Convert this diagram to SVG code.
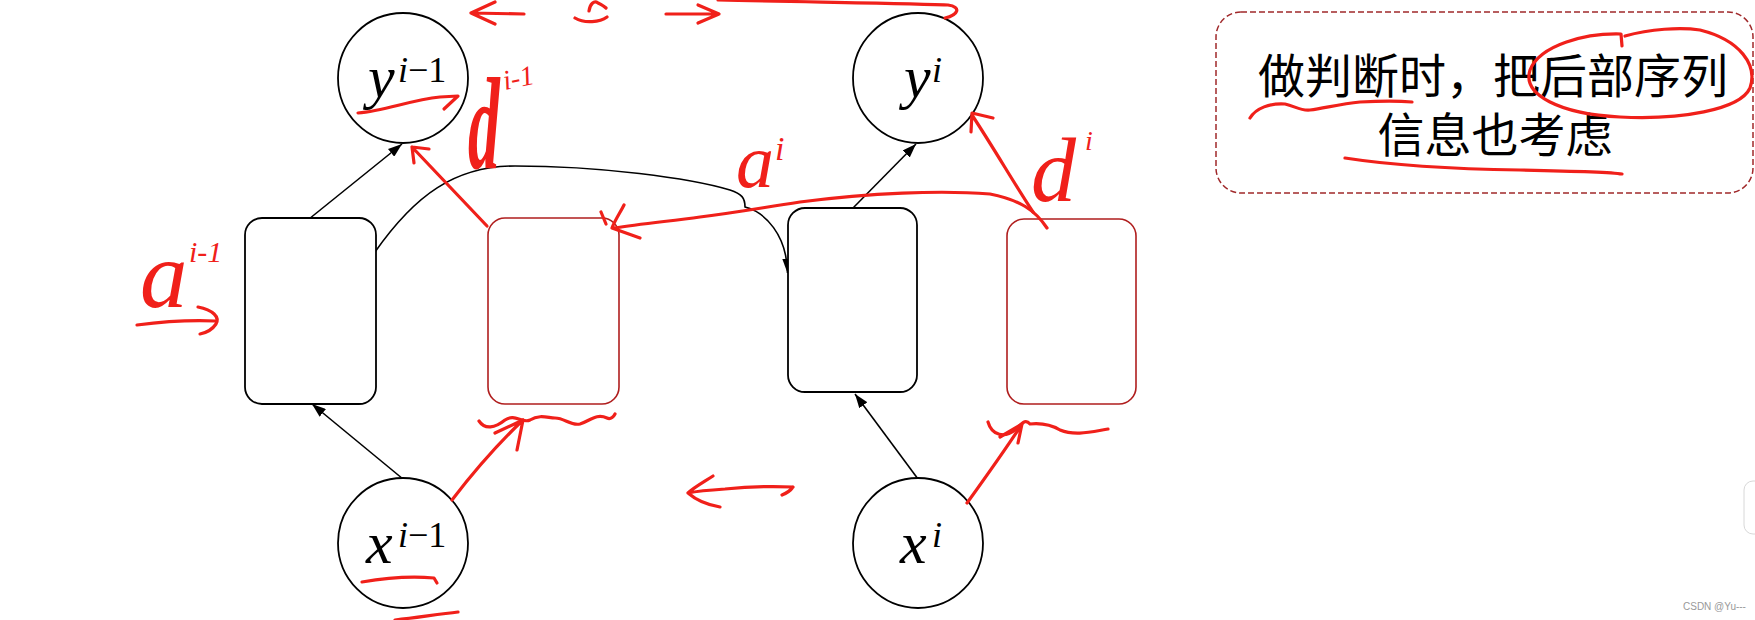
<svg xmlns="http://www.w3.org/2000/svg" width="1755" height="620" viewBox="0 0 1755 620">
<style>
.node{fill:#fff;stroke:#000;stroke-width:1.8}
.rnode{fill:#fff;stroke:#b01e1e;stroke-width:1.6}
.edge{fill:none;stroke:#000;stroke-width:1.6}
.math{font-family:"Liberation Serif","DejaVu Serif",serif;fill:#000}
.it{font-style:italic}
.cn{font-family:"Noto Sans CJK SC","Noto Sans",sans-serif;font-size:47px;fill:#000;text-anchor:middle}
.pen{fill:none;stroke:#f0201a;stroke-width:3.2;stroke-linecap:round;stroke-linejoin:round}
.hand{font-family:"Liberation Serif","DejaVu Serif",serif;font-style:italic;fill:#f0201a}
</style>
<defs>
<marker id="ah" viewBox="0 0 14 10" refX="14" refY="5" markerWidth="14" markerHeight="10" orient="auto" markerUnits="userSpaceOnUse">
<path d="M0,0 L14,5 L0,10 z" fill="#000"/>
</marker>
</defs>
<rect width="1755" height="620" fill="#fff"/>

<g id="connectors">
<line class="edge" x1="309" y1="219" x2="402" y2="144" marker-end="url(#ah)"/>
<line class="edge" x1="403" y1="479" x2="312" y2="404" marker-end="url(#ah)"/>
<line class="edge" x1="853" y1="208" x2="916" y2="144" marker-end="url(#ah)"/>
<line class="edge" x1="918" y1="479" x2="855" y2="394" marker-end="url(#ah)"/>
<path class="edge" d="M375,252 C415,195 455,166 515,166 C600,166 690,178 730,190 C742,194 745,198 745,207 C765,212 787,235 787.5,273" marker-end="url(#ah)"/>
</g>

<g id="node-y-prev">
<circle class="node" cx="403" cy="78" r="65"/>
<text class="math" font-size="60"><tspan class="it" x="368" y="97">y</tspan><tspan font-size="36" x="398" y="82"><tspan class="it">i</tspan>−1</tspan></text>
</g>
<g id="node-y-cur">
<circle class="node" cx="918" cy="78" r="65"/>
<text class="math" font-size="60"><tspan class="it" x="904" y="97">y</tspan><tspan class="it" font-size="36" x="932" y="82">i</tspan></text>
</g>
<g id="node-x-prev">
<circle class="node" cx="403" cy="543" r="65"/>
<text class="math" font-size="60"><tspan class="it" x="366" y="563">x</tspan><tspan font-size="36" x="398" y="547"><tspan class="it">i</tspan>−1</tspan></text>
</g>
<g id="node-x-cur">
<circle class="node" cx="918" cy="543" r="65"/>
<text class="math" font-size="60"><tspan class="it" x="900" y="563">x</tspan><tspan class="it" font-size="36" x="932" y="547">i</tspan></text>
</g>
<g id="node-h-prev"><rect class="node" x="245" y="218" width="131" height="186" rx="17"/></g>
<g id="node-r-prev"><rect class="rnode" x="488" y="218" width="131" height="186" rx="17"/></g>
<g id="node-h-cur"><rect class="node" x="788" y="208" width="129" height="184" rx="17"/></g>
<g id="node-r-cur"><rect class="rnode" x="1007" y="219" width="129" height="185" rx="17"/></g>

<g id="note">
<rect x="1216" y="12" width="537" height="181" rx="25" fill="none" stroke="#a0282a" stroke-width="1.5" stroke-dasharray="6,3"/>
<text class="cn"><tspan x="1493" y="93">做判断时，把后部序列</tspan><tspan x="1495" y="152">信息也考虑</tspan></text>
</g>

<g id="annotations">
<path class="pen" d="M524,14 L471,13 M495,2 L471,13 L495,24"/>
<path class="pen" d="M589,11 C590,4 594,0 598,3 C604,6 606,8 606,8 M575,18 C585,24 600,22 607,17"/>
<path class="pen" d="M666,14 L719,14 M698,5 L719,14 L698,23"/>
<path class="pen" d="M718,0 C800,2 900,3 948,5 C962,7 958,15 945,18"/>
<path class="pen" d="M358,113 C385,111 410,100 440,97 L458,96 L444,109"/>
<text class="hand" font-size="132" font-weight="bold" transform="translate(468,168) scale(0.48,1)">d</text>
<text class="hand" font-size="28" transform="translate(505,90) rotate(-12)">i-1</text>
<path class="pen" d="M487,226 L412,147 M414,163 L412,147 L429,149"/>
<path class="pen" d="M1047,228 C1035,210 1020,200 990,194 C940,190 870,193 800,202 C760,208 740,212 700,217 C670,221 640,224 614,228 M624,205 C620,213 615,220 612,228 L640,238 M601,212 L606,224"/>
<text class="hand" font-size="76" x="736" y="187">a</text>
<text class="hand" font-size="34" x="775" y="160">i</text>
<path class="pen" d="M1033,212 C1015,185 995,150 972,115 M971,132 L972,113 L993,118"/>
<text class="hand" font-size="90" x="1031" y="201">d</text>
<text class="hand" font-size="28" x="1085" y="150">i</text>
<text class="hand" font-size="95" x="140" y="307">a</text>
<text class="hand" font-size="30" x="189" y="262">i-1</text>
<path class="pen" d="M137,325 C160,322 190,320 215,321 M198,307 C213,310 220,317 216,324 C212,330 205,333 200,334"/>
<path class="pen" d="M452,500 C475,470 500,442 523,420 M495,433 L523,420 L517,450"/>
<path class="pen" d="M479,421 C485,430 495,428 505,420 C515,413 522,424 530,420 C540,414 548,418 555,418 C565,418 570,426 580,424 C590,421 596,413 607,418 C611,420 614,416 615,414"/>
<path class="pen" d="M967,503 C985,478 1005,450 1022,424 M1000,437 L1022,424 L1018,443"/>
<path class="pen" d="M988,422 C992,436 1005,438 1015,430 C1022,424 1025,418 1030,424 C1040,423 1050,424 1060,430 C1075,436 1090,432 1108,429"/>
<path class="pen" d="M793,487 C770,486 745,487 725,489 C710,490 698,491 688,493 M713,476 C702,483 693,488 688,493 C696,500 708,505 720,507 M793,487 C791,490 787,493 782,495"/>
<path class="pen" d="M362,582 C385,578 410,576 434,578 L437,583"/>
<path class="pen" d="M395,620 C420,617 440,614 458,612"/>
<path class="pen" d="M1250,118 C1256,108 1270,103 1285,104 C1295,106 1300,111 1310,110 C1325,108 1340,104 1360,102 C1380,101 1400,101 1412,102"/>
<path class="pen" d="M1622,46 L1621,34 C1585,33 1540,45 1530,70 C1522,95 1560,114 1620,117 C1680,120 1740,110 1750,88 C1758,65 1740,40 1700,30 C1680,27 1650,29 1625,36"/>
<path class="pen" d="M1345,158 C1390,165 1450,169 1520,170 C1570,171 1610,172 1622,174"/>
</g>

<rect x="1744" y="481" width="30" height="53" rx="9" fill="#fff" stroke="#d8d8d8" stroke-width="1"/>
<text x="1683" y="610" font-family="Liberation Sans,Arial,sans-serif" font-size="10" fill="#999">CSDN @Yu---</text>
</svg>
